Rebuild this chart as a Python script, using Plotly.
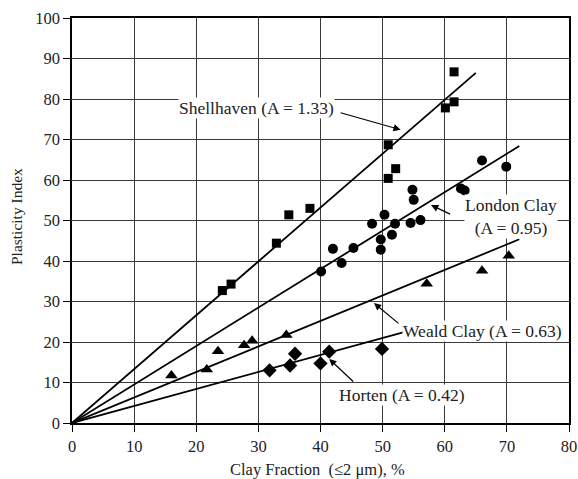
import plotly.graph_objects as go

# Data
shell_x = [24.2, 25.6, 32.9, 34.9, 38.3, 50.9, 50.9, 52.1, 60.1, 61.5, 61.5]
shell_y = [32.7, 34.3, 44.4, 51.4, 53.0, 68.7, 60.4, 62.8, 77.8, 79.3, 86.7]

london_x = [40.1, 42.0, 43.4, 45.3, 48.3, 49.7, 49.7, 50.3, 51.5, 52.0, 54.5, 54.8, 55.0, 56.1, 62.6, 63.2, 66.0, 69.9]
london_y = [37.4, 43.0, 39.5, 43.2, 49.2, 45.3, 42.8, 51.4, 46.5, 49.2, 49.4, 57.6, 55.1, 50.1, 57.9, 57.4, 64.8, 63.3]

weald_x = [16.0, 21.7, 23.5, 27.7, 29.0, 34.5, 57.1, 66.0, 70.3]
weald_y = [11.7, 13.2, 17.7, 19.2, 20.3, 21.7, 34.4, 37.6, 41.3]

horten_x = [31.8, 35.1, 35.9, 40.0, 41.4, 49.9]
horten_y = [13.0, 14.2, 17.1, 14.7, 17.6, 18.3]

# Activity lines: slope A, drawn from origin to an end clay fraction
activities = [1.33, 0.95, 0.63, 0.42]
line_ends = [65, 72, 72, 53.3]

x_ticks = [0, 10, 20, 30, 40, 50, 60, 70, 80]
y_ticks = [0, 10, 20, 30, 40, 50, 60, 70, 80, 90, 100]

x_title = "Clay Fraction  (≤2 μm), %"
y_title = "Plasticity Index"

FONT = "Liberation Serif"
TXT = "#222"

fig = go.Figure()

for a, xe in zip(activities, line_ends):
    fig.add_trace(go.Scatter(x=[0, xe], y=[0, a * xe], mode="lines",
                             line=dict(color="black", width=1.8),
                             showlegend=False, hoverinfo="skip"))

fig.add_trace(go.Scatter(x=shell_x, y=shell_y, mode="markers",
                         marker=dict(symbol="square", size=9, color="black"),
                         showlegend=False))
fig.add_trace(go.Scatter(x=london_x, y=london_y, mode="markers",
                         marker=dict(symbol="circle", size=10, color="black"),
                         showlegend=False))
fig.add_trace(go.Scatter(x=weald_x, y=weald_y, mode="markers",
                         marker=dict(symbol="triangle-up", size=11, color="black"),
                         showlegend=False))
fig.add_trace(go.Scatter(x=horten_x, y=horten_y, mode="markers",
                         marker=dict(symbol="diamond", size=11, color="black"),
                         showlegend=False))

ann_font = dict(family=FONT, size=17.5, color=TXT)

def arrow(xt, yt, xh, yh):
    fig.add_annotation(x=xh, y=yh, ax=xt, ay=yt, xref="x", yref="y",
                       axref="x", ayref="y", text="", showarrow=True,
                       arrowhead=2, arrowsize=1.2, arrowwidth=1.2,
                       arrowcolor="black")

def label(x, y, txt):
    fig.add_annotation(x=x, y=y, xref="x", yref="y", text=txt,
                       showarrow=False, font=ann_font, bgcolor="white",
                       borderpad=0)

arrow(43.0, 76.7, 52.9, 72.4)
label(29.7, 77.9, "Shellhaven (A = 1.33)")
arrow(61.1, 51.4, 57.8, 53.8)
label(70.7, 51.0, "London Clay<br>(A = 0.95)")
arrow(52.8, 24.3, 48.6, 29.6)
label(66.0, 22.8, "Weald Clay (A = 0.63)")
arrow(45.5, 9.9, 41.4, 15.8)
label(53.1, 7.0, "Horten (A = 0.42)")

# axis titles as fixed annotations
fig.add_annotation(x=0.494, y=-0.1136, xref="paper", yref="paper",
                   text=x_title, showarrow=False,
                   font=dict(family=FONT, size=16.5, color=TXT),
                   xanchor="center", yanchor="middle")
fig.add_annotation(x=-0.1127, y=0.511, xref="paper", yref="paper",
                   text=y_title, showarrow=False, textangle=-90,
                   font=dict(family=FONT, size=15.5, color=TXT),
                   xanchor="center", yanchor="middle")

axis_common = dict(showgrid=True, gridcolor="#3a3a3a", gridwidth=1,
                   showline=True, linecolor="black", linewidth=1.5,
                   mirror=True, ticks="outside", ticklen=7,
                   tickcolor="black", tickwidth=1, zeroline=False,
                   automargin=False,
                   tickfont=dict(family=FONT, size=16.5, color=TXT))

fig.update_xaxes(range=[0, 80], tickvals=x_ticks, **axis_common)
fig.update_yaxes(range=[0, 100], tickvals=y_ticks, **axis_common)

fig.update_layout(width=578, height=479, plot_bgcolor="white",
                  paper_bgcolor="white",
                  margin=dict(l=72, r=9, t=18, b=56),
                  font=dict(family=FONT))

fig.write_html("out.html",
               config={"displayModeBar": False},
               post_script="document.body.style.margin='0';"
                           "document.body.style.overflow='hidden';")
